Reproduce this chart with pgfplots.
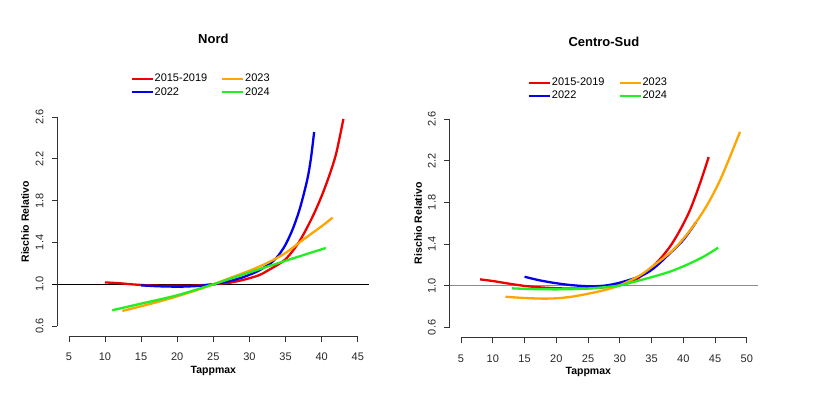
\documentclass[border=0pt]{standalone}
\usepackage{pgfplots}
\pgfplotsset{compat=1.18}
\usepackage{fontspec}
\setmainfont{Liberation Sans}

\definecolor{rRed}{HTML}{EE0000}
\definecolor{rBlue}{HTML}{0000EE}
\definecolor{rOrange}{HTML}{FFA500}
\definecolor{rGreen}{HTML}{22EE22}

\pgfplotsset{
  rpanel/.style={
    scale only axis,
    anchor=south west,
    axis x line*=bottom, axis y line*=left,
    axis line style={draw=none},
    ymin=0.5, ymax=2.7,
    ytick={0.6,1.0,1.4,1.8,2.2,2.6},
    tick align=outside,
    major tick length=5.5pt,
    tick style={black!80, line width=0.7pt},
    /pgf/number format/assume math mode=true,
    ticklabel style={font=\fontsize{11}{13}\selectfont, text=black!85},
    yticklabel style={rotate=90, anchor=south, inner ysep=8.2pt,
      /pgf/number format/.cd, fixed, fixed zerofill, precision=1},
    xticklabel style={anchor=north, yshift=-7.6pt},
    clip=false,
    title style={font=\bfseries\fontsize{13}{15}\selectfont, anchor=center},
    label style={font=\bfseries\fontsize{10.5}{12}\selectfont},
    xlabel={Tappmax},
    ylabel={Rischio Relativo},
    legend columns=2, transpose legend,
    legend cell align=left,
    legend style={draw=none, fill=none, font=\fontsize{11}{13}\selectfont,
      anchor=north west, inner sep=0pt, outer sep=0pt,
      nodes={inner sep=1pt, text height=8pt, text depth=2pt},
      row sep=1.4pt,
      /tikz/every even column/.append style={column sep=13pt}},
    legend image code/.code={\draw[#1, line width=2pt] (0pt,0pt) -- (21pt,0pt);},
    every axis plot/.append style={line width=2.3pt, smooth},
  }
}

\begin{document}
\begin{tikzpicture}
\path[use as bounding box] (0pt,0pt) rectangle (833pt,407pt);

% Nord
\begin{axis}[rpanel,
    at={(57.3pt,70.4pt)}, width=312.1pt, height=230.2pt,
    xmin=3.4, xmax=46.6,
    xtick={5,10,...,45},
    title={Nord},
    title style={at={(axis description cs:0.5,1.268)}},
    xlabel style={at={(axis description cs:0.5,-0.150)}, anchor=center},
    ylabel style={at={(axis description cs:-0.1035,0.499)}, anchor=center},
    legend style={at={(axis description cs:0.235,1.146)}},
  ]
\addplot[black, line width=0.7pt, forget plot] coordinates {(2.7,1) (46.6,1)};
\addplot[rRed] coordinates {
(10,1.018) (12,1.010) (14,0.998) (16,0.990) (18,0.986) (20,0.985) (22,0.987)
(24,0.994) (25,1.000) (27,1.012) (28.7,1.035) (30,1.058) (31.5,1.092) (33,1.150)
(34,1.190) (35,1.240) (36,1.320) (37,1.420) (38,1.545) (39,1.685) (40,1.845)
(41,2.030) (42,2.250) (43,2.580)};
\addlegendentry{2015-2019}
\addplot[rBlue] coordinates {
(15,0.990) (17,0.982) (19,0.978) (21,0.978) (23,0.985) (25,1.000) (27,1.027)
(29,1.065) (31,1.120) (32,1.160) (33,1.205) (34,1.275) (35,1.380) (36,1.530)
(37,1.730) (38,2.000) (38.5,2.200) (38.95,2.455)};
\addlegendentry{2022}
\addplot[rOrange] coordinates {
(12.4,0.745) (15,0.790) (17.5,0.835) (20,0.885) (22.5,0.940) (25,1.000)
(27.5,1.065) (30,1.130) (32.5,1.205) (35,1.300) (37.5,1.430) (40,1.555) (41.5,1.637)};
\addlegendentry{2023}
\addplot[rGreen] coordinates {
(11,0.752) (15,0.815) (20,0.895) (25,1.000) (30,1.113) (35,1.225) (40.57,1.347)};
\addlegendentry{2024}
\draw[black!80, line width=0.7pt] (axis cs:5,0.5) -- (axis cs:45,0.5);
\draw[black!80, line width=0.7pt] (axis cs:3.4,0.6) -- (axis cs:3.4,2.6);
\end{axis}

% Centro-Sud
\begin{axis}[rpanel,
    at={(449.6pt,69.2pt)}, width=308.6pt, height=229.2pt,
    xmin=3.2, xmax=51.8,
    xtick={5,10,...,50},
    title={Centro-Sud},
    title style={at={(axis description cs:0.5,1.264)}},
    xlabel style={at={(axis description cs:0.4494,-0.148)}, anchor=center},
    ylabel style={at={(axis description cs:-0.1024,0.4996)}, anchor=center},
    legend style={at={(axis description cs:0.254,1.140)}},
  ]
\addplot[black!45, line width=0.9pt, forget plot] coordinates {(3.2,1) (51.8,1)};
\addplot[rRed] coordinates {
(8,1.061) (10,1.045) (12,1.025) (15,0.998) (17.5,0.984) (20,0.976) (22.5,0.972)
(25,0.975) (27.5,0.985) (30,1.008) (32,1.045) (33.2,1.085) (35.8,1.220)
(37.9,1.375) (39.5,1.535) (41.06,1.726) (42.64,1.983) (44,2.235)};
\addlegendentry{2015-2019}
\addplot[rBlue] coordinates {
(15,1.086) (17.5,1.050) (20.2,1.022) (22.5,1.005) (25,0.995) (27.5,1.000)
(30,1.029) (33.3,1.093) (35.3,1.165) (37.9,1.311) (40,1.439) (42,1.608)};
\addlegendentry{2022}
\addplot[rOrange] coordinates {
(12,0.894) (15,0.882) (18,0.876) (20.2,0.880) (22.5,0.895) (25.1,0.924)
(27.6,0.958) (30.1,1.006) (33.2,1.100) (35.8,1.215) (38.4,1.343) (40.5,1.487)
(42.6,1.662) (44.2,1.822) (45.8,2.014) (47.36,2.238) (48.94,2.478)};
\addlegendentry{2023}
\addplot[rGreen] coordinates {
(13,0.975) (15,0.970) (17.5,0.966) (20.2,0.965) (22.5,0.967) (25.1,0.974)
(27.5,0.985) (30.1,1.003) (32.1,1.035) (35.3,1.087) (37.9,1.135) (40.5,1.199)
(43.2,1.279) (45.5,1.365)};
\addlegendentry{2024}
\draw[black!80, line width=0.7pt] (axis cs:5,0.5) -- (axis cs:50,0.5);
\draw[black!80, line width=0.7pt] (axis cs:3.2,0.6) -- (axis cs:3.2,2.6);
\end{axis}
\end{tikzpicture}
\end{document}
